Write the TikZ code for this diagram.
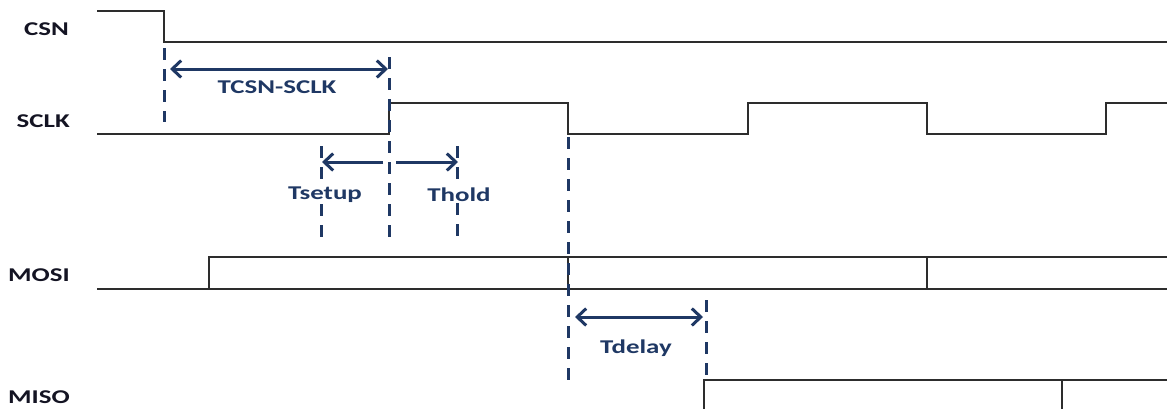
\documentclass[tikz,border=0pt]{standalone}
\usepackage{fontspec}
\setmainfont{Carlito}
\usetikzlibrary{arrows.meta}
\definecolor{navy}{RGB}{31,56,100}
\definecolor{sig}{RGB}{45,45,45}
\definecolor{lbl}{RGB}{20,20,35}
\newcommand{\widetxt}[1]{\scalebox{1.38}[1]{#1}}
\begin{document}
\begin{tikzpicture}[x=1pt,y=-1pt,
  wave/.style={draw=sig,line width=1.5pt},
  guide/.style={draw=navy,line width=3pt,dash pattern=on 12pt off 9pt},
  dimline/.style={draw=navy,line width=3pt},
  barb/.style={arrows={-Straight Barb[length=9pt,width=17pt,line width=3pt]}},
  dbarb/.style={arrows={Straight Barb[length=9pt,width=17pt,line width=3pt]-Straight Barb[length=9pt,width=17pt,line width=3pt]}},
  siglabel/.style={anchor=east,font=\bfseries\fontsize{19.5}{22}\selectfont,text=lbl,inner sep=0pt},
  timelabel/.style={font=\bfseries\fontsize{19.5}{22}\selectfont,text=navy,inner sep=1pt}]
\useasboundingbox (0,0) rectangle (1167,408);
\fill[white] (0,0) rectangle (1167,408);

% signal labels
\node[siglabel] (csn)  at (69,29)  {\widetxt{CSN}};
\node[siglabel] (sclk) at (70,121) {\widetxt{SCLK}};
\node[siglabel] (mosi) at (70,275) {\widetxt{MOSI}};
\node[siglabel] (miso) at (70,397) {\widetxt{MISO}};

% waveforms
\draw[wave] (97,11) -- (164,11) -- (164,42) -- (1167,42);
\draw[wave] (97,134) -- (389,134) -- (389,103) -- (568,103) -- (568,134) -- (748,134)
  -- (748,103) -- (927,103) -- (927,134) -- (1106,134) -- (1106,103) -- (1167,103);
\draw[wave] (97,289) -- (1167,289);
\draw[wave] (209,289) -- (209,257) -- (1167,257);
\draw[wave] (568,257) -- (568,289);
\draw[wave] (927,257) -- (927,289);
\draw[wave] (704,410) -- (704,380) -- (1167,380);
\draw[wave] (1062,380) -- (1062,410);

% guide coordinates
\coordinate (g1a) at (164,48);  \coordinate (g1b) at (164,122);
\coordinate (g2a) at (389,57);  \coordinate (g2b) at (389,243);
\coordinate (g3a) at (321,146); \coordinate (g3b) at (321,243);
\coordinate (g4a) at (457,146); \coordinate (g4b) at (457,243);
\coordinate (g5a) at (568,137); \coordinate (g5b) at (568,388);
\coordinate (g6a) at (706,300); \coordinate (g6b) at (706,378);

% timing labels (white backing interrupts guides)
\node[timelabel,fill=white] (tsetup) at (325,195) {\widetxt{Tsetup}};
\node[timelabel,fill=white] (thold)  at (459,195) {\widetxt{Thold}};

\draw[guide] (g1a) -- (g1b);
\draw[guide] (g2a) -- (g2b);
\draw[guide] (g3a) -- (tsetup.north -| g3a);
\draw[guide] (tsetup.south -| g3a) -- (g3b);
\draw[guide] (g4a) -- (thold.north -| g4a);
\draw[guide] (thold.south -| g4a) -- (g4b);
\draw[guide] (g5a) -- (g5b);
\draw[guide] (g6a) -- (g6b);

% arrow end points
\coordinate (a1l) at (170,69);  \coordinate (a1r) at (388,69);
\coordinate (a2l) at (322,162); \coordinate (a2r) at (383,162);
\coordinate (a3l) at (396,162); \coordinate (a3r) at (458,162);
\coordinate (a4l) at (575,317); \coordinate (a4r) at (703,317);

\draw[dimline,dbarb] (a1l) -- (a1r);
\draw[dimline,barb] (a2r) -- (a2l);
\draw[dimline,barb] (a3l) -- (a3r);
\draw[dimline,dbarb] (a4l) -- (a4r);

\node[timelabel] (tcsn)   at (277,87)  {\widetxt{TCSN-SCLK}};
\node[timelabel] (tdelay) at (636,348) {\widetxt{Tdelay}};
\end{tikzpicture}
\end{document}
